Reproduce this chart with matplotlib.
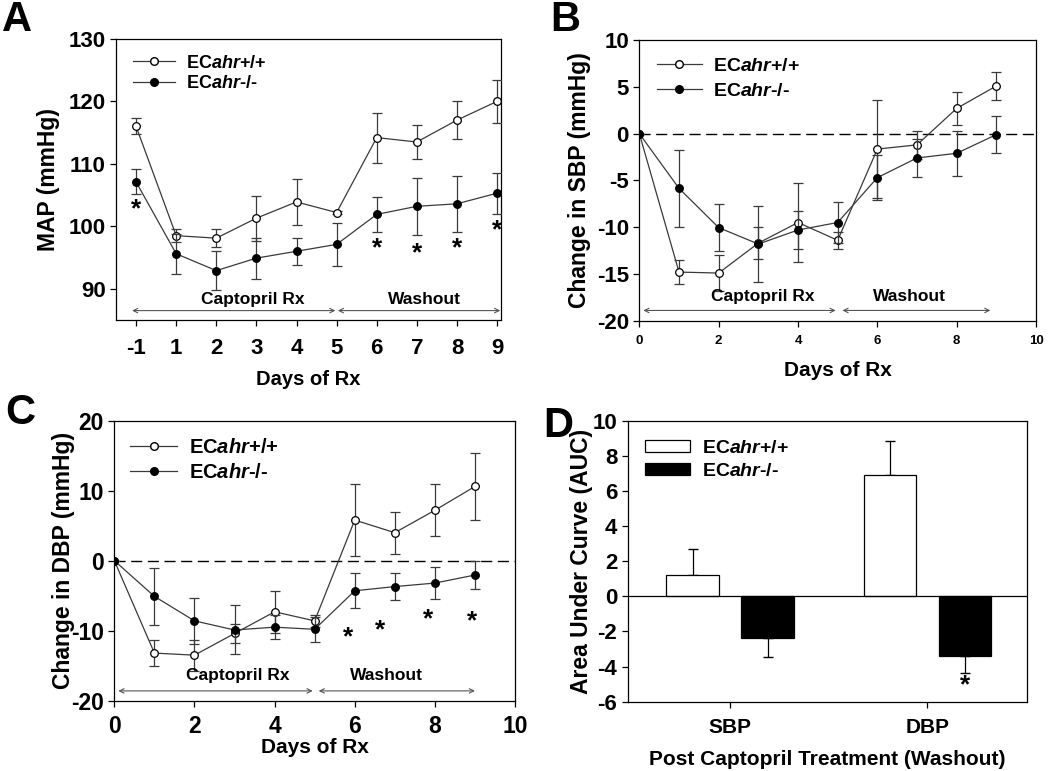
import numpy as np
import matplotlib
matplotlib.use("Agg")
import matplotlib.pyplot as plt
from matplotlib.patches import Patch
from matplotlib.lines import Line2D

plt.rcParams['font.family'] = 'Liberation Sans'
plt.rcParams['font.weight'] = 'bold'
plt.rcParams['axes.labelweight'] = 'bold'
plt.rcParams['axes.unicode_minus'] = False
plt.rcParams['mathtext.fontset'] = 'custom'
plt.rcParams['mathtext.it'] = 'Liberation Sans:italic:bold'
plt.rcParams['mathtext.rm'] = 'Liberation Sans:bold'

LBL_WT = r'EC$\mathit{ahr}$+/+'
LBL_KO = r'EC$\mathit{ahr}$-/-'

# ---- panel A: MAP ----
daysA = ['-1', '1', '2', '3', '4', '5', '6', '7', '8', '9']
mapWT = [116.0, 98.5, 98.1, 101.3, 103.9, 102.2, 114.2, 113.5, 117.0, 120.0]
mapWTerr = [1.3, 1.0, 1.4, 3.6, 3.7, 0.3, 4.0, 2.7, 3.1, 3.5]
mapKO = [107.1, 95.6, 92.9, 94.9, 96.0, 97.1, 101.9, 103.2, 103.6, 105.3]
mapKOerr = [2.0, 3.2, 3.1, 3.3, 2.2, 3.5, 2.8, 4.6, 4.5, 3.3]
starsA_x = [0, 6, 7, 8, 9]
starsA_y = [102.7, 96.5, 95.6, 96.4, 99.3]

# ---- panel B: change in SBP ----
daysB = [0, 1, 2, 3, 4, 5, 6, 7, 8, 9]
sbpWT = [0, -14.8, -14.9, -11.7, -9.5, -11.4, -1.65, -1.2, 2.7, 5.1]
sbpWTerr = [0, 1.3, 1.9, 1.7, 4.2, 0.9, 5.2, 1.5, 1.8, 1.5]
sbpKO = [0, -5.85, -10.05, -11.8, -10.3, -9.5, -4.7, -2.6, -2.1, -0.1]
sbpKOerr = [0, 4.1, 2.5, 4.1, 2.0, 2.2, 2.4, 2.0, 2.4, 2.0]

# ---- panel C: change in DBP ----
dbpWT = [0, -13.2, -13.5, -10.4, -7.3, -8.6, 5.8, 4.0, 7.2, 10.6]
dbpWTerr = [0, 1.8, 2.2, 1.3, 3.0, 0.9, 5.1, 3.0, 3.7, 4.8]
dbpKO = [0, -5.1, -8.6, -9.9, -9.5, -9.8, -4.3, -3.7, -3.2, -2.05]
dbpKOerr = [0, 4.1, 3.3, 3.5, 1.7, 1.8, 2.5, 1.9, 2.3, 2.0]
starsC_x = [5.84, 6.63, 7.82, 8.93]
starsC_y = [-10.9, -10.0, -8.4, -8.6]

# ---- panel D: AUC ----
aucCats = ['SBP', 'DBP']
aucWT = [1.2, 6.9]
aucWTerr = [1.5, 1.95]
aucKO = [-2.4, -3.38]
aucKOerr = [1.05, 0.97]

fig = plt.figure(figsize=(10.5, 7.71), dpi=100)
axA = fig.add_axes([0.1105, 0.585, 0.3667, 0.3645])
axB = fig.add_axes([0.6089, 0.584, 0.3778, 0.364])
axC = fig.add_axes([0.1089, 0.0912, 0.3816, 0.3632])
axD = fig.add_axes([0.5978, 0.0899, 0.38, 0.3645])

lc = '#3a3a3a'


def draw_lines(ax, x, wt, wterr, ko, koerr):
    ax.errorbar(x, wt, yerr=wterr, color=lc, lw=0.9, elinewidth=0.9, capsize=3.5,
                marker='o', ms=5.5, mfc='white', mec='black', mew=0.9, zorder=3)
    ax.errorbar(x, ko, yerr=koerr, color=lc, lw=0.9, elinewidth=0.9, capsize=3.5,
                marker='o', ms=5.5, mfc='black', mec='black', mew=0.9, zorder=4)


def legend_lines(ax, fs, loc, sp):
    h = [Line2D([], [], color=lc, lw=0.9, marker='o', ms=5.5, mfc='white', mec='black'),
         Line2D([], [], color=lc, lw=0.9, marker='o', ms=5.5, mfc='black', mec='black')]
    ax.legend(h, [LBL_WT, LBL_KO], loc='upper left', bbox_to_anchor=loc, frameon=False,
              fontsize=fs, handlelength=2.3, handletextpad=0.6, labelspacing=sp,
              borderaxespad=0)


def arrows(ax, segs, y, texts):
    for (x0, x1) in segs:
        ax.annotate('', xy=(x1, y), xytext=(x0, y),
                    arrowprops=dict(arrowstyle='<->', color='#555555', lw=0.8,
                                    shrinkA=0, shrinkB=0, mutation_scale=8))
    for (tx, ty, s) in texts:
        ax.text(tx, ty, s, ha='center', va='center', fontsize=12.5, fontweight='bold')


def style(ax):
    for s in ax.spines.values():
        s.set_linewidth(0.9)
    ax.tick_params(direction='out', length=4, width=0.9)


# A
xA = np.arange(len(daysA))
draw_lines(axA, xA, mapWT, mapWTerr, mapKO, mapKOerr)
for sx, sy in zip(starsA_x, starsA_y):
    axA.text(sx, sy, '*', ha='center', va='center', fontsize=19, fontweight='bold')
axA.set_xlim(-0.5, 9.1)
axA.set_ylim(85, 130)
axA.set_yticks([90, 100, 110, 120, 130])
axA.set_xticks(xA)
axA.set_xticklabels(daysA)
axA.tick_params(labelsize=16)
axA.tick_params(axis='x', pad=9)
axA.set_ylabel('MAP (mmHg)', fontsize=16.5, labelpad=6)
axA.set_xlabel('Days of Rx', fontsize=14.5, labelpad=8)
arrows(axA, [(-0.1, 4.97), (5.03, 9.08)], 86.5,
       [(2.9, 88.3, 'Captopril Rx'), (7.2, 88.3, 'Washout')])
legend_lines(axA, 13, (0.026, 0.97), 0.2)
style(axA)

# B
draw_lines(axB, daysB, sbpWT, sbpWTerr, sbpKO, sbpKOerr)
axB.axhline(0, color='black', lw=1, ls=(0, (8, 4)), zorder=1)
axB.set_xlim(0, 10)
axB.set_ylim(-20, 10)
axB.set_yticks([-20, -15, -10, -5, 0, 5, 10])
axB.set_xticks([0, 2, 4, 6, 8, 10])
axB.tick_params(axis='y', labelsize=16)
axB.tick_params(axis='x', labelsize=9.5, pad=6)
axB.set_ylabel('Change in SBP (mmHg)', fontsize=16.5, labelpad=4)
axB.set_xlabel('Days of Rx', fontsize=15, labelpad=10)
arrows(axB, [(0.1, 4.95), (5.12, 8.85)], -18.9,
       [(3.1, -17.4, 'Captopril Rx'), (6.8, -17.4, 'Washout')])
legend_lines(axB, 14, (0.025, 0.965), 0.35)
style(axB)

# C
draw_lines(axC, daysB, dbpWT, dbpWTerr, dbpKO, dbpKOerr)
axC.axhline(0, color='black', lw=1, ls=(0, (8, 4)), zorder=1)
for sx, sy in zip(starsC_x, starsC_y):
    axC.text(sx, sy, '*', ha='center', va='center', fontsize=19, fontweight='bold')
axC.set_xlim(0, 10)
axC.set_ylim(-20, 20)
axC.set_yticks([-20, -10, 0, 10, 20])
axC.set_xticks([0, 2, 4, 6, 8, 10])
axC.tick_params(labelsize=16.5)
axC.tick_params(axis='x', pad=6)
axC.set_ylabel('Change in DBP (mmHg)', fontsize=16.5, labelpad=-3)
axC.set_xlabel('Days of Rx', fontsize=15, labelpad=0)
arrows(axC, [(0.1, 4.95), (5.1, 9.0)], -18.6,
       [(3.08, -16.4, 'Captopril Rx'), (6.8, -16.4, 'Washout')])
legend_lines(axC, 14.5, (0.02, 0.967), 0.3)
style(axC)

# D
xD = np.arange(len(aucCats))
w = 0.265
off = 0.19
axD.bar(xD - off, aucWT, w, color='white', edgecolor='black', lw=0.9, zorder=2)
axD.bar(xD + off, aucKO, w, color='black', edgecolor='black', lw=0.9, zorder=2)
axD.errorbar(xD - off, aucWT, yerr=[[0, 0], aucWTerr], fmt='none', ecolor='black',
             elinewidth=0.9, capsize=3.5, zorder=1)
axD.errorbar(xD + off, aucKO, yerr=[aucKOerr, [0, 0]], fmt='none', ecolor='black',
             elinewidth=0.9, capsize=3.5, zorder=1)
axD.axhline(0, color='black', lw=0.9, zorder=3)
axD.text(1 + off, -5.05, '*', ha='center', va='center', fontsize=19, fontweight='bold')
axD.set_xlim(-0.519, 1.503)
axD.set_ylim(-6, 10)
axD.set_yticks([-6, -4, -2, 0, 2, 4, 6, 8, 10])
axD.set_xticks(xD)
axD.set_xticklabels(aucCats)
axD.tick_params(labelsize=16)
axD.tick_params(axis='x', pad=8, labelsize=15)
axD.set_ylabel('Area Under Curve (AUC)', fontsize=16.5, labelpad=0)
axD.set_xlabel('Post Captopril Treatment (Washout)', fontsize=15, labelpad=9)
hD = [Patch(facecolor='white', edgecolor='black', lw=0.9),
      Patch(facecolor='black', edgecolor='black', lw=0.9)]
axD.legend(hD, [LBL_WT, LBL_KO], loc='upper left', bbox_to_anchor=(0.025, 0.96),
           frameon=False, fontsize=14, handlelength=2.3, handleheight=0.6,
           handletextpad=0.6, labelspacing=0.3, borderaxespad=0)
style(axD)

# panel letters
fig.text(0.016, 0.974, 'A', fontsize=30, fontweight='bold', ha='center', va='center')
fig.text(0.538, 0.974, 'B', fontsize=30, fontweight='bold', ha='center', va='center')
fig.text(0.019, 0.464, 'C', fontsize=30, fontweight='bold', ha='center', va='center')
fig.text(0.532, 0.447, 'D', fontsize=30, fontweight='bold', ha='center', va='center')

fig.savefig('out.png', dpi=100)
